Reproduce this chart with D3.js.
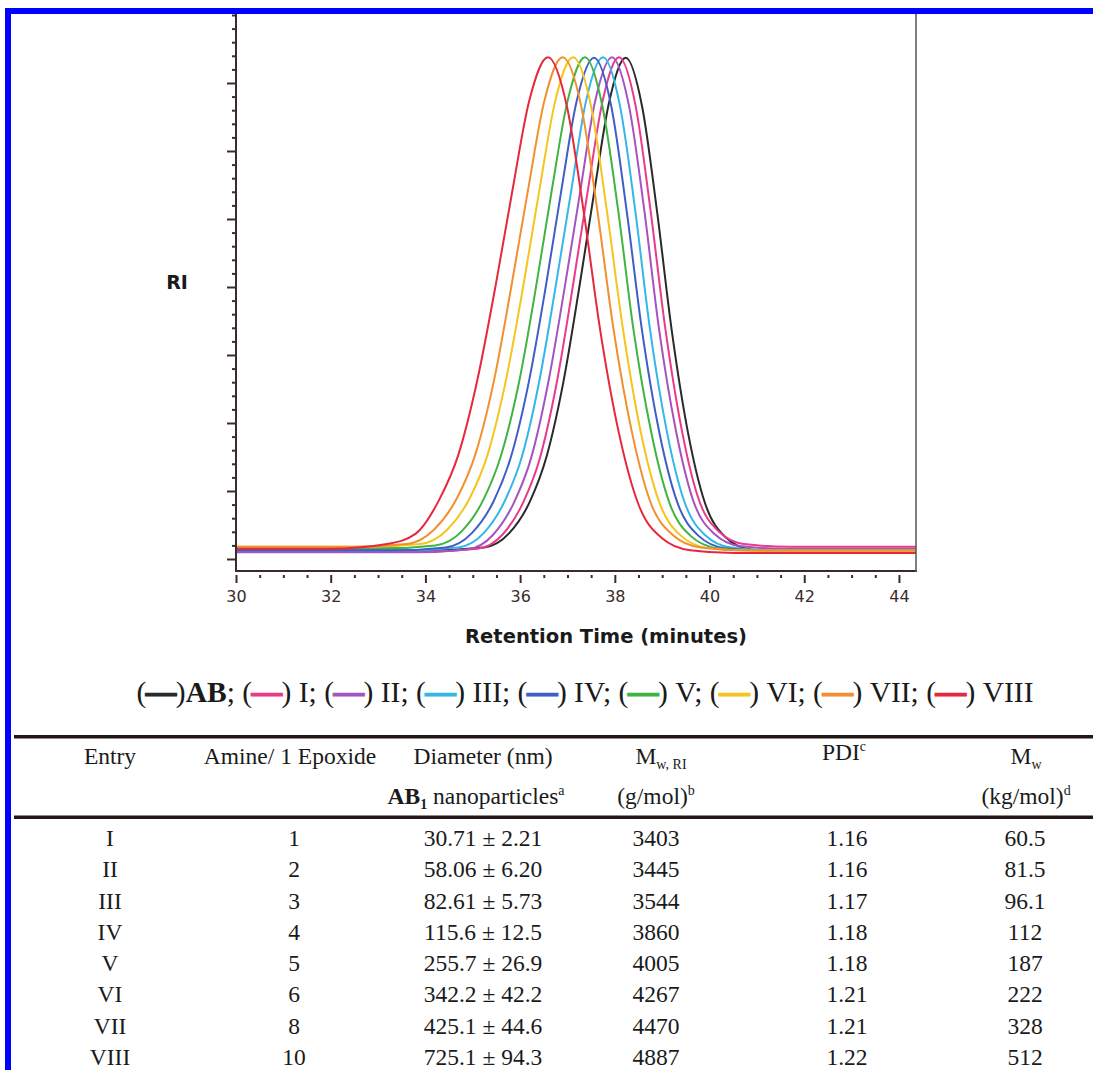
<!DOCTYPE html>
<html>
<head>
<meta charset="utf-8">
<script src="https://cdn.jsdelivr.net/npm/d3@7"></script>
<style>
  body { margin: 0; background: #fff; }
  svg { display: block; }
</style>
</head>
<body>
<svg id="fig" width="1093" height="1070"></svg>
<script>
// ---- GPC traces: [retention time (min), RI signal (a.u.)] ----
const seriesNames  = ["AB", "I", "II", "III", "IV", "V", "VI", "VII", "VIII"];
const seriesColors = ["#2a2a2a", "#ea3a8c", "#a553c2", "#35b6e6", "#3f5ec6", "#3fb440", "#f4c51d", "#f2902f", "#e6283d"];

const traceAB = [[30,0.13],[34.1,0.13],[35.24,0.17],[35.77,0.38],[36.21,0.85],[36.56,1.51],[36.91,2.59],[37.26,4.04],[37.57,5.42],[37.88,6.72],[38.23,7.37],[38.58,6.64],[38.89,5.12],[39.20,3.37],[39.55,1.84],[39.90,0.83],[40.34,0.32],[40.87,0.14],[41.9,0.10],[44.36,0.10]];
const traceI   = [[30,0.11],[34.0,0.11],[35.10,0.15],[35.63,0.36],[36.07,0.84],[36.42,1.49],[36.77,2.58],[37.12,4.04],[37.43,5.42],[37.74,6.73],[38.09,7.38],[38.44,6.66],[38.75,5.15],[39.06,3.42],[39.41,1.91],[39.76,0.90],[40.20,0.40],[40.73,0.22],[41.7,0.18],[44.36,0.18]];
const traceII  = [[30,0.10],[33.8,0.10],[34.88,0.14],[35.42,0.35],[35.87,0.83],[36.23,1.48],[36.59,2.58],[36.95,4.03],[37.27,5.41],[37.58,6.72],[37.94,7.38],[38.30,6.66],[38.62,5.14],[38.93,3.40],[39.29,1.89],[39.65,0.87],[40.10,0.37],[40.64,0.19],[41.6,0.15],[44.36,0.15]];
const traceIII = [[30,0.13],[33.6,0.13],[34.69,0.17],[35.23,0.38],[35.68,0.86],[36.04,1.51],[36.40,2.60],[36.76,4.05],[37.08,5.42],[37.39,6.73],[37.75,7.38],[38.11,6.66],[38.43,5.13],[38.74,3.39],[39.10,1.87],[39.46,0.86],[39.91,0.35],[40.45,0.17],[41.4,0.13],[44.36,0.13]];
const traceIV  = [[30,0.13],[33.4,0.13],[34.43,0.17],[34.98,0.38],[35.44,0.85],[35.81,1.51],[36.18,2.59],[36.55,4.04],[36.87,5.42],[37.19,6.72],[37.56,7.37],[37.93,6.64],[38.25,5.12],[38.57,3.38],[38.94,1.86],[39.31,0.85],[39.77,0.34],[40.32,0.16],[41.3,0.12],[44.36,0.12]];
const traceV   = [[30,0.16],[33.2,0.16],[34.21,0.20],[34.77,0.41],[35.23,0.88],[35.60,1.53],[35.98,2.61],[36.35,4.06],[36.67,5.43],[37.00,6.73],[37.37,7.38],[37.74,6.65],[38.07,5.13],[38.39,3.39],[38.77,1.86],[39.14,0.85],[39.60,0.34],[40.16,0.16],[41.1,0.12],[44.36,0.12]];
const traceVI  = [[30,0.18],[32.8,0.18],[33.89,0.22],[34.46,0.43],[34.94,0.90],[35.32,1.55],[35.70,2.63],[36.08,4.07],[36.41,5.44],[36.74,6.73],[37.12,7.38],[37.50,6.65],[37.83,5.13],[38.17,3.39],[38.55,1.86],[38.93,0.85],[39.40,0.34],[39.97,0.16],[40.9,0.12],[44.36,0.12]];
const traceVII = [[30,0.18],[32.5,0.18],[33.60,0.22],[34.18,0.43],[34.67,0.90],[35.06,1.55],[35.45,2.63],[35.83,4.07],[36.17,5.44],[36.51,6.73],[36.90,7.38],[37.29,6.66],[37.63,5.13],[37.97,3.39],[38.36,1.87],[38.74,0.86],[39.23,0.35],[39.81,0.17],[40.7,0.13],[44.36,0.13]];
const traceVIII= [[30,0.15],[32.0,0.15],[33.19,0.22],[33.79,0.37],[34.29,0.87],[34.69,1.52],[35.09,2.61],[35.49,4.05],[35.84,5.43],[36.19,6.73],[36.59,7.38],[36.99,6.65],[37.34,5.12],[37.69,3.37],[38.09,1.84],[38.49,0.82],[38.99,0.31],[39.59,0.13],[40.5,0.09],[44.36,0.09]];
const traces = [traceAB, traceI, traceII, traceIII, traceIV, traceV, traceVI, traceVII, traceVIII];

// axis ticks
const xMajorTicks = [30, 32, 34, 36, 38, 40, 42, 44];
const xAxisTitle = "Retention Time (minutes)";
const yAxisTitle = "RI";

// ---- table of polymer / nanoparticle properties ----
const entries      = ["I", "II", "III", "IV", "V", "VI", "VII", "VIII"];
const amineRatio   = ["1", "2", "3", "4", "5", "6", "8", "10"];
const diameterMean = ["30.71", "58.06", "82.61", "115.6", "255.7", "342.2", "425.1", "725.1"];
const diameterSD   = ["2.21", "6.20", "5.73", "12.5", "26.9", "42.2", "44.6", "94.3"];
const mwRI         = ["3403", "3445", "3544", "3860", "4005", "4267", "4470", "4887"];
const pdi          = ["1.16", "1.16", "1.17", "1.18", "1.18", "1.21", "1.21", "1.22"];
const mwKg         = ["60.5", "81.5", "96.1", "112", "187", "222", "328", "512"];

const svg = d3.select("#fig");
svg.append("rect").attr("width", 1093).attr("height", 1070).attr("fill", "#fff");

// frame in blue along the top and left edges
svg.append("rect").attr("x", 5).attr("y", 8).attr("width", 1088).attr("height", 6).attr("fill", "#0000ff");
svg.append("rect").attr("x", 5).attr("y", 8).attr("width", 6).attr("height", 1062).attr("fill", "#0000ff");

// ---- chromatogram ----
const x = d3.scaleLinear().domain([30, 44.36]).range([236, 916]);
const y = d3.scaleLinear().domain([0, 8]).range([559, 15]);
const axisColor = "#3a2c2c";
const sans = "'DejaVu Sans', Verdana, sans-serif";

const plot = svg.append("g");
plot.append("clipPath").attr("id", "plotClip")
  .append("rect").attr("x", 236).attr("y", 14).attr("width", 680).attr("height", 557);

const line = d3.line()
  .x(d => x(d[0]))
  .y(d => y(d[1]))
  .curve(d3.curveMonotoneX);

plot.append("g").attr("clip-path", "url(#plotClip)")
  .selectAll("path")
  .data(traces)
  .join("path")
  .attr("d", line)
  .attr("fill", "none")
  .attr("stroke", (d, i) => seriesColors[i])
  .attr("stroke-width", 2)
  .attr("stroke-linejoin", "round");

// x axis (ticks hang a few px below the axis line)
const xMinor = d3.range(30.5, 44.36, 0.5).filter(v => Math.abs(v - Math.round(v / 2) * 2) > 1e-6);
const gxMinor = plot.append("g").attr("transform", "translate(0,575)")
  .call(d3.axisBottom(x).tickValues(xMinor).tickSize(3).tickFormat(""));
const gx = plot.append("g").attr("transform", "translate(0,575)")
  .call(d3.axisBottom(x).tickValues(xMajorTicks).tickSize(8).tickPadding(8).tickFormat(d3.format("d")));
[gx, gxMinor].forEach(g => {
  g.select(".domain").remove();
  g.selectAll(".tick line").attr("stroke", axisColor).attr("stroke-width", 2);
});
gx.selectAll(".tick text").attr("fill", "#3a2c2c").style("font-family", sans).style("font-size", "16px");

// y axis (unlabelled ticks)
const yMajor = d3.range(0, 8, 1);
const yMinor = d3.range(0, 8.01, 0.2).filter(v => Math.abs(v - Math.round(v)) > 1e-6 || Math.round(v) === 8);
const gyMinor = plot.append("g").attr("transform", "translate(236,0)")
  .call(d3.axisLeft(y).tickValues(yMinor).tickSize(4).tickFormat(""));
const gy = plot.append("g").attr("transform", "translate(236,0)")
  .call(d3.axisLeft(y).tickValues(yMajor).tickSize(9).tickFormat(""));
[gy, gyMinor].forEach(g => {
  g.select(".domain").remove();
  g.selectAll(".tick line").attr("stroke", axisColor).attr("stroke-width", 2);
});

// axis lines and right border
plot.append("line").attr("x1", 236).attr("x2", 236).attr("y1", 14).attr("y2", 572)
  .attr("stroke", axisColor).attr("stroke-width", 2);
plot.append("line").attr("x1", 235).attr("x2", 917).attr("y1", 571).attr("y2", 571)
  .attr("stroke", axisColor).attr("stroke-width", 2);
plot.append("line").attr("x1", 916).attr("x2", 916).attr("y1", 14).attr("y2", 572)
  .attr("stroke", "#555").attr("stroke-width", 1.5);

// axis titles
plot.append("text").attr("x", 606).attr("y", 643).attr("text-anchor", "middle")
  .style("font-family", sans).style("font-weight", "bold").style("font-size", "19.5px")
  .attr("fill", "#1a1a1a").text(xAxisTitle);
plot.append("text").attr("x", 177).attr("y", 289).attr("text-anchor", "middle")
  .style("font-family", sans).style("font-weight", "bold").style("font-size", "19px")
  .attr("fill", "#1a1a1a").text(yAxisTitle);

// ---- legend line ----
const serif = "'Liberation Serif', 'Times New Roman', serif";
const legend = svg.append("text").attr("x", 585).attr("y", 702).attr("text-anchor", "middle")
  .style("font-family", serif).style("font-size", "29.5px").attr("fill", "#1a1a1a");
seriesNames.forEach((name, i) => {
  legend.append("tspan").text("(");
  legend.append("tspan").text("\u2014")
    .attr("fill", seriesColors[i]).attr("stroke", seriesColors[i]).attr("stroke-width", 2.4);
  legend.append("tspan").text(")");
  if (i === 0) legend.append("tspan").style("font-weight", "bold").text(name);
  else legend.append("tspan").text("\u00a0" + name);
  if (i < seriesNames.length - 1) legend.append("tspan").text(";\u00a0");
});

// ---- table ----
const table = svg.append("g").style("font-family", serif).style("font-size", "23.5px").attr("fill", "#1a1a1a");
table.append("rect").attr("x", 14).attr("y", 735).attr("width", 1079).attr("height", 3.5).attr("fill", "#231815");
table.append("rect").attr("x", 14).attr("y", 815.5).attr("width", 1079).attr("height", 3.5).attr("fill", "#231815");

const colX = { entry: 110, amine: 294, diam: 483, mwri: 656, pdi: 847, mw: 1025 };

function cell(xp, yp, parts) {
  const t = table.append("text").attr("x", xp).attr("y", yp).attr("text-anchor", "middle");
  parts.forEach(p => {
    const s = t.append("tspan").text(p.t);
    if (p.bold) s.style("font-weight", "bold");
    if (p.size) s.style("font-size", p.size + "px");
    if (p.dy) s.attr("dy", p.dy);
  });
  return t;
}

// header row 1
cell(colX.entry, 764, [{ t: "Entry" }]);
cell(290, 764, [{ t: "Amine/ 1 Epoxide" }]);
cell(colX.diam, 764, [{ t: "Diameter (nm)" }]);
cell(661, 764, [{ t: "M" }, { t: "w, RI", size: 14, dy: 5 }]);
cell(844, 760, [{ t: "PDI" }, { t: "c", size: 14, dy: -9 }]);
cell(1026, 764, [{ t: "M" }, { t: "w", size: 14, dy: 5 }]);
// header row 2
cell(476, 804, [{ t: "AB", bold: true }, { t: "1", bold: true, size: 14, dy: 5 }, { t: " nanoparticles", dy: -5 }, { t: "a", size: 14, dy: -9 }]);
cell(656, 804, [{ t: "(g/mol)" }, { t: "b", size: 14, dy: -9 }]);
cell(1026, 804, [{ t: "(kg/mol)" }, { t: "d", size: 14, dy: -9 }]);

// body rows
const rowY = d3.scalePoint().domain(entries).range([846, 1065]);
entries.forEach((e, i) => {
  const yy = rowY(e);
  cell(colX.entry, yy, [{ t: e }]);
  cell(colX.amine, yy, [{ t: amineRatio[i] }]);
  cell(colX.diam, yy, [{ t: diameterMean[i] + " \u00b1 " + diameterSD[i] }]);
  cell(colX.mwri, yy, [{ t: mwRI[i] }]);
  cell(colX.pdi, yy, [{ t: pdi[i] }]);
  cell(colX.mw, yy, [{ t: mwKg[i] }]);
});
</script>
</body>
</html>
